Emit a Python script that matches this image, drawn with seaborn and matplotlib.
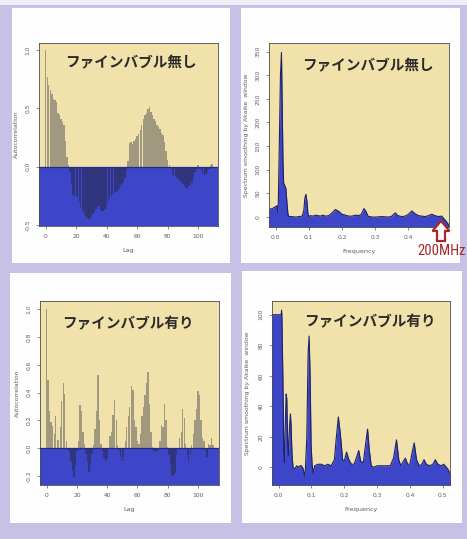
import matplotlib
matplotlib.use("Agg")
import matplotlib.pyplot as plt
from matplotlib.patches import Rectangle, Polygon
import pandas as pd
import seaborn as sns

W, H = 467, 539

# ---------------------------------------------------------------- data
title_no = "ファインバブル無し"
title_with = "ファインバブル有り"

lags_no = list(range(110))
acf_no = [
    1.00, 0.77, 0.70, 0.66, 0.62, 0.58, 0.57, 0.55, 0.46, 0.44,
    0.41, 0.38, 0.36, 0.22, 0.08, 0.01, -0.05, -0.15, -0.24, -0.25,
    -0.25, -0.26, -0.30, -0.35, -0.37, -0.40, -0.42, -0.44, -0.46, -0.45,
    -0.43, -0.41, -0.39, -0.36, -0.34, -0.34, -0.37, -0.38, -0.38, -0.36,
    -0.33, -0.30, -0.27, -0.25, -0.24, -0.23, -0.22, -0.21, -0.19, -0.17,
    -0.15, -0.13, -0.10, -0.04, 0.05, 0.20, 0.21, 0.19, 0.22, 0.24,
    0.26, 0.28, 0.31, 0.36, 0.41, 0.44, 0.46, 0.49, 0.51, 0.47,
    0.44, 0.41, 0.39, 0.36, 0.34, 0.32, 0.29, 0.27, 0.21, 0.13,
    0.06, 0.01, -0.02, -0.06, -0.08, -0.08, -0.10, -0.11, -0.12, -0.14,
    -0.15, -0.17, -0.18, -0.19, -0.17, -0.16, -0.13, -0.09, -0.05, -0.02,
    0.01, -0.02, -0.04, -0.06, -0.07, -0.06, -0.04, -0.02, 0.01, 0.02,
]

lags_with = list(range(111))
acf_with = [
    1.00, 0.49, 0.27, 0.19, 0.16, 0.10, 0.23, 0.06, 0.06, 0.15,
    0.34, 0.47, 0.39, 0.05, -0.01, -0.03, -0.09, -0.16, -0.21, -0.12,
    -0.02, 0.05, 0.31, 0.27, 0.12, 0.03, -0.04, -0.10, -0.17, -0.12,
    -0.04, 0.02, 0.14, 0.27, 0.53, 0.20, 0.03, -0.02, -0.07, -0.10,
    -0.08, 0.00, 0.09, 0.12, 0.24, 0.35, 0.20, 0.02, -0.02, -0.06,
    -0.09, -0.06, 0.05, 0.15, 0.23, 0.30, 0.45, 0.42, 0.20, 0.15,
    0.05, 0.03, 0.10, 0.23, 0.30, 0.38, 0.47, 0.55, 0.32, 0.12,
    0.01, -0.02, -0.03, -0.02, 0.00, 0.05, 0.17, 0.15, 0.32, 0.20,
    0.01, -0.05, -0.12, -0.19, -0.20, -0.18, -0.05, 0.00, 0.07, 0.12,
    0.28, 0.22, 0.03, -0.05, -0.10, -0.04, 0.02, 0.10, 0.20, 0.28,
    0.41, 0.38, 0.20, 0.07, 0.05, -0.01, -0.06, 0.03, 0.02, 0.07,
    0.02,
]

freq_no = [
    -0.022, -0.010, 0.000, 0.004, 0.006, 0.008, 0.011, 0.0145, 0.0175, 0.0195,
    0.022, 0.024, 0.028, 0.031, 0.034, 0.037, 0.040, 0.050, 0.060, 0.070,
    0.080, 0.085, 0.088, 0.091, 0.094, 0.097, 0.100, 0.105, 0.112, 0.120,
    0.128, 0.135, 0.142, 0.150, 0.160, 0.170, 0.180, 0.190, 0.200, 0.210,
    0.220, 0.230, 0.240, 0.250, 0.258, 0.266, 0.272, 0.278, 0.290, 0.300,
    0.320, 0.340, 0.350, 0.360, 0.368, 0.380, 0.390, 0.400, 0.410, 0.420,
    0.430, 0.440, 0.450, 0.460, 0.470, 0.480, 0.490, 0.500, 0.510, 0.525,
]
spec_no = [
    16, 18, 22, 24, 10, 28, 150, 300, 348, 250,
    120, 72, 66, 60, 30, 6, 1, 1, 0, 1,
    2, 15, 40, 48, 35, 8, 1, 3, 2, 4,
    3, 2, 4, 2, 3, 9, 16, 12, 6, 4,
    2, 2, 4, 3, 6, 18, 12, 2, 0, 0,
    1, 0, 2, 9, 3, 1, 2, 6, 13, 7,
    3, 2, 1, 3, 6, 3, 1, 2, -6, -20,
]

freq_with = [
    -0.022, 0.008, 0.009, 0.010, 0.013, 0.016, 0.018, 0.020, 0.023, 0.025,
    0.028, 0.030, 0.033, 0.036, 0.038, 0.041, 0.044, 0.050, 0.055, 0.060,
    0.065, 0.070, 0.075, 0.080, 0.082, 0.086, 0.090, 0.093, 0.096, 0.099,
    0.102, 0.106, 0.110, 0.120, 0.130, 0.140, 0.150, 0.160, 0.170, 0.176,
    0.182, 0.188, 0.195, 0.200, 0.207, 0.214, 0.222, 0.230, 0.238, 0.244,
    0.250, 0.258, 0.265, 0.271, 0.276, 0.282, 0.290, 0.300, 0.320, 0.340,
    0.350, 0.359, 0.366, 0.372, 0.380, 0.386, 0.393, 0.400, 0.407, 0.413,
    0.420, 0.428, 0.436, 0.443, 0.450, 0.460, 0.470, 0.477, 0.485, 0.495,
    0.503, 0.515, 0.525,
]
spec_with = [
    100, 100, 103, 100, 60, 10, 3, 25, 48, 45,
    15, 8, 25, 35, 28, 8, 0, -1, 1, 0,
    1, 1, -1, -6, 0, 20, 75, 86, 60, 15,
    2, -4, 1, 2, 2, 1, 2, 1, 5, 20,
    33, 22, 5, 4, 10, 5, 2, 2, 7, 11,
    4, 3, 15, 25, 12, 1, 0, 1, 1, 1,
    6, 18, 5, 1, 4, 6, 2, 2, 10, 16,
    5, 1, 2, 5, 2, 1, 2, 5, 2, 1,
    2, -1, -5,
]

lag_ticks = [0, 20, 40, 60, 80, 100]
acf_ticks_no = [-0.5, 0.0, 0.5, 1.0]
acf_ticks_with = [-0.2, 0.0, 0.2, 0.4, 0.6, 0.8, 1.0]
freq_ticks = [0.0, 0.1, 0.2, 0.3, 0.4, 0.5]
spec_ticks_no = [0, 50, 100, 150, 200, 250, 300, 350]
spec_ticks_with = [0, 20, 40, 60, 80, 100]

# ---------------------------------------------------------------- style
sns.set_style("ticks")
plt.rcParams["font.family"] = ["DejaVu Sans"]
CJK = ["Noto Sans CJK JP", "DejaVu Sans"]

LAVENDER = "#c8c1e6"
WHEAT = "#f1e2ab"
BLUE = "#3d46c8"
NAVY = "#242a8a"
TAN = "#a59c7b"
LINE = "#1c2266"
GREY = "#5e5e5e"
RED = "#a52a2a"

fig = plt.figure(figsize=(W / 100, H / 100), dpi=100, facecolor=LAVENDER)


def px_rect(x0, y0, x1, y1):
    return [x0 / W, 1 - y1 / H, (x1 - x0) / W, (y1 - y0) / H]


# light strip along the top edge and the four white cards
fig.add_artist(Rectangle((0, 1 - 5 / H), 1, 5 / H, transform=fig.transFigure,
                         fc="#efedf7", ec="none", zorder=-2))
for box in [(12, 8, 230, 263), (241, 8, 460, 263),
            (10, 273, 231, 523), (242, 271, 462, 523)]:
    r = px_rect(*box)
    fig.add_artist(Rectangle((r[0], r[1]), r[2], r[3], transform=fig.transFigure,
                             fc="#fefefe", ec="none", zorder=-1))


def style_axes(ax, xticks, xlabels, yticks, ylabels, xlabel, ylabel, ylab_x):
    ax.set_xticks(xticks)
    ax.set_xticklabels(xlabels)
    ax.set_yticks(yticks)
    ax.set_yticklabels(ylabels, rotation=90, va="center")
    ax.tick_params(direction="out", length=2.5, width=0.5, colors=GREY,
                   labelsize=4.3, pad=3.5)
    for s in ax.spines.values():
        s.set_color("#4d4d4d")
        s.set_linewidth(0.6)
    ax.set_xlabel(xlabel, fontsize=4.6, color=GREY, va="center")
    ax.set_ylabel(ylabel, fontsize=4.4, color=GREY, va="center")
    ax.xaxis.set_label_coords(0.5, -0.135)
    ax.yaxis.set_label_coords(ylab_x, 0.5)


def acf_panel(rect, lags, acf, ylim, yticks, title, tpos, ylab_x):
    ax = fig.add_axes(rect)
    ax.set_facecolor(WHEAT)
    ax.axhspan(ylim[0], 0, color=BLUE, lw=0, zorder=0.5)
    df = pd.DataFrame({"lag": lags, "acf": acf})
    df["sign"] = ["pos" if v >= 0 else "neg" for v in df["acf"]]
    sns.barplot(data=df, x="lag", y="acf", hue="sign",
                palette={"pos": TAN, "neg": NAVY}, native_scale=True,
                width=0.92, errorbar=None, dodge=False, legend=False,
                linewidth=0, ax=ax, zorder=2)
    ax.axhline(0, color=NAVY, lw=0.9, zorder=3)
    ax.set_xlim(-4.4, lags[-1] + 4.0)
    ax.set_ylim(*ylim)
    style_axes(ax, lag_ticks, [str(t) for t in lag_ticks],
               yticks, [f"{t:.1f}" for t in yticks], "Lag", "Autocorrelation", ylab_x)
    ax.text(tpos[0], tpos[1], title, transform=ax.transAxes, ha="center",
            va="center", fontsize=10.5, family=CJK, weight="bold",
            color="#2b2b2b", zorder=5)
    return ax


def spec_panel(rect, freq, spec, ylim, yticks, title, tpos, ylab_x):
    ax = fig.add_axes(rect)
    ax.set_facecolor(WHEAT)
    ax.fill_between(freq, ylim[0], spec, color=BLUE, lw=0, zorder=1)
    sns.lineplot(x=freq, y=spec, color=LINE, lw=0.8, estimator=None,
                 ax=ax, zorder=2)
    ax.set_xlim(-0.02, 0.522)
    ax.set_ylim(*ylim)
    style_axes(ax, freq_ticks, [f"{t:.1f}" for t in freq_ticks],
               yticks, [str(t) for t in yticks], "Frequency",
               "Spectrum smoothing by Akaike  window", ylab_x)
    ax.text(tpos[0], tpos[1], title, transform=ax.transAxes, ha="center",
            va="center", fontsize=10.5, family=CJK, weight="bold",
            color="#2b2b2b", zorder=5)
    return ax


acf_panel(px_rect(39, 43, 218, 226), lags_no, acf_no, (-0.51, 1.06),
          acf_ticks_no, title_no, (0.514, 0.896), -0.125)
spec_panel(px_rect(269, 43, 449, 227), freq_no, spec_no, (-21, 368),
           spec_ticks_no, title_no, (0.55, 0.88), -0.125)
acf_panel(px_rect(40, 301, 219, 485), lags_with, acf_with, (-0.265, 1.06),
          acf_ticks_with, title_with, (0.49, 0.88), -0.128)
spec_panel(px_rect(272, 301, 450, 485), freq_with, spec_with, (-11.6, 109),
           spec_ticks_with, title_with, (0.55, 0.89), -0.14)


# hollow arrow marking the band edge, with its caption
def fpt(x, y):
    return (x / W, 1 - y / H)


arrow = [fpt(441, 221), fpt(449.5, 231), fpt(445, 231), fpt(445, 241),
         fpt(437, 241), fpt(437, 231), fpt(432.5, 231)]
fig.add_artist(Polygon(arrow, closed=True, transform=fig.transFigure,
                       fc="white", ec=RED, lw=1.6, zorder=6))
fig.text(465.5 / W, 1 - 251 / H, "200MHz", ha="right", va="center",
         fontsize=10.5, color=RED, fontstretch="condensed",
         family=["Liberation Sans Narrow", "Roboto Condensed", "DejaVu Sans"],
         zorder=6)

fig.savefig("out.png", dpi=100, facecolor=LAVENDER)
